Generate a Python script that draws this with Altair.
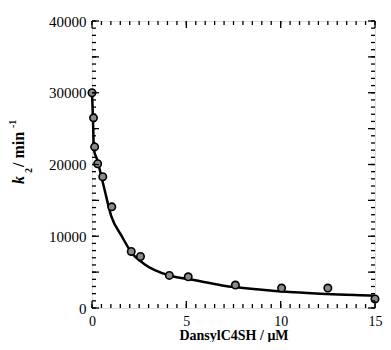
import altair as alt
import pandas as pd
import numpy as np

# measured points
conc = [0.0, 0.08, 0.14, 0.3, 0.57, 1.05, 2.08, 2.57, 4.1, 5.1, 7.6, 10.05, 12.5, 15.0]
k2 = [30000, 26500, 22450, 20100, 18300, 14100, 7880, 7180, 4540, 4350, 3200, 2780, 2780, 1250]

# fitted curve
fit_x = [0.0, 0.05, 0.1, 0.27, 0.62, 1.02, 1.57, 2.09, 2.78, 4.16, 5.4, 6.9, 9.0, 10.7, 12.45, 14.9, 15.0]
fit_y = [30000, 26500, 22100, 20700, 17000, 12800, 10040, 7740, 6110, 4490, 3890, 3150, 2540, 2180, 1940, 1710, 1700]

x_major = [0, 5, 10, 15]
y_major = [0, 5000, 10000, 15000, 20000, 25000, 30000, 35000, 40000]
x_minor = list(np.arange(0, 15.01, 0.5))
y_minor = list(np.arange(0, 40001, 1000))

FONT = "Liberation Serif"
W, H = 283, 287

xs = alt.Scale(domain=[0, 15], nice=False, zero=False)
ys = alt.Scale(domain=[0, 40000], nice=False)

pts = pd.DataFrame({"x": conc, "y": k2})
fit = pd.DataFrame({"x": fit_x, "y": fit_y})

base_axes = alt.Chart(pd.DataFrame({"x": [0.0], "y": [0.0]})).mark_point(opacity=0).encode(
    x=alt.X("x:Q", scale=xs, axis=alt.Axis(
        values=x_major, format="d", title="DansylC4SH / μM", ticks=False, domain=False, grid=False,
        labelFont=FONT, labelFontSize=14, labelColor="black", labelPadding=6, labelOverlap=False,
        labelFlush=False,
        titleFont=FONT, titleFontSize=14, titleFontWeight="bold", titleColor="black",
        titleBaseline="alphabetic", titleY=31)),
    y=alt.Y("y:Q", scale=ys, axis=alt.Axis(
        values=y_major, format="d", title=None, ticks=False, domain=False, grid=False,
        labelFont=FONT, labelFontSize=15, labelColor="black", labelPadding=6, labelOverlap=False,
        labelFlush=False)),
)

line = alt.Chart(fit).mark_line(color="black", strokeWidth=2.5, interpolate="monotone").encode(
    x=alt.X("x:Q", scale=xs), y=alt.Y("y:Q", scale=ys))

points = alt.Chart(pts).mark_point(shape="circle", filled=True, fill="#8a8a8a", stroke="black",
                                   strokeWidth=1.6, size=55, opacity=1).encode(
    x=alt.X("x:Q", scale=xs), y=alt.Y("y:Q", scale=ys))

def xticks(vals, length, top):
    df = pd.DataFrame({"x": vals})
    if top:
        return alt.Chart(df).mark_rule(color="black", strokeWidth=1.3).encode(
            x=alt.X("x:Q", scale=xs), y=alt.value(0), y2=alt.value(length))
    return alt.Chart(df).mark_rule(color="black", strokeWidth=1.3).encode(
        x=alt.X("x:Q", scale=xs), y=alt.value(H), y2=alt.value(H - length))

def yticks(vals, length, right):
    df = pd.DataFrame({"y": vals})
    if right:
        return alt.Chart(df).mark_rule(color="black", strokeWidth=1.3).encode(
            y=alt.Y("y:Q", scale=ys), x=alt.value(W), x2=alt.value(W - length))
    return alt.Chart(df).mark_rule(color="black", strokeWidth=1.3).encode(
        y=alt.Y("y:Q", scale=ys), x=alt.value(0), x2=alt.value(length))

tick_layers = [
    xticks(x_major, 7, False), xticks(x_minor, 4, False),
    xticks(x_major, 7, True), xticks(x_minor, 4, True),
    yticks(y_major, 7, False), yticks(y_minor, 4, False),
    yticks(y_major, 7, True), yticks(y_minor, 4, True),
]

def txt(s, x, y, size, style="normal"):
    return alt.Chart(pd.DataFrame({"t": [s]})).mark_text(
        angle=270, align="left", baseline="alphabetic", font=FONT, fontSize=size,
        fontWeight="bold", fontStyle=style, color="black").encode(
        x=alt.value(x), y=alt.value(y), text="t:N")

title_layers = [
    txt("k", -68, 163, 16, "italic"),
    txt("2", -60, 152, 10),
    txt("/ min", -68, 146, 16),
    txt("-1", -76, 107, 10),
]

chart = alt.layer(base_axes, line, points, *tick_layers, *title_layers).properties(
    width=W, height=H, autosize=alt.AutoSizeParams(type="none"),
    padding={"left": 84, "top": 13, "right": 8, "bottom": 34},
).configure_view(stroke="black", strokeWidth=2).configure(background="white")

chart.save("out.html", embed_options={"renderer": "svg", "actions": False})
